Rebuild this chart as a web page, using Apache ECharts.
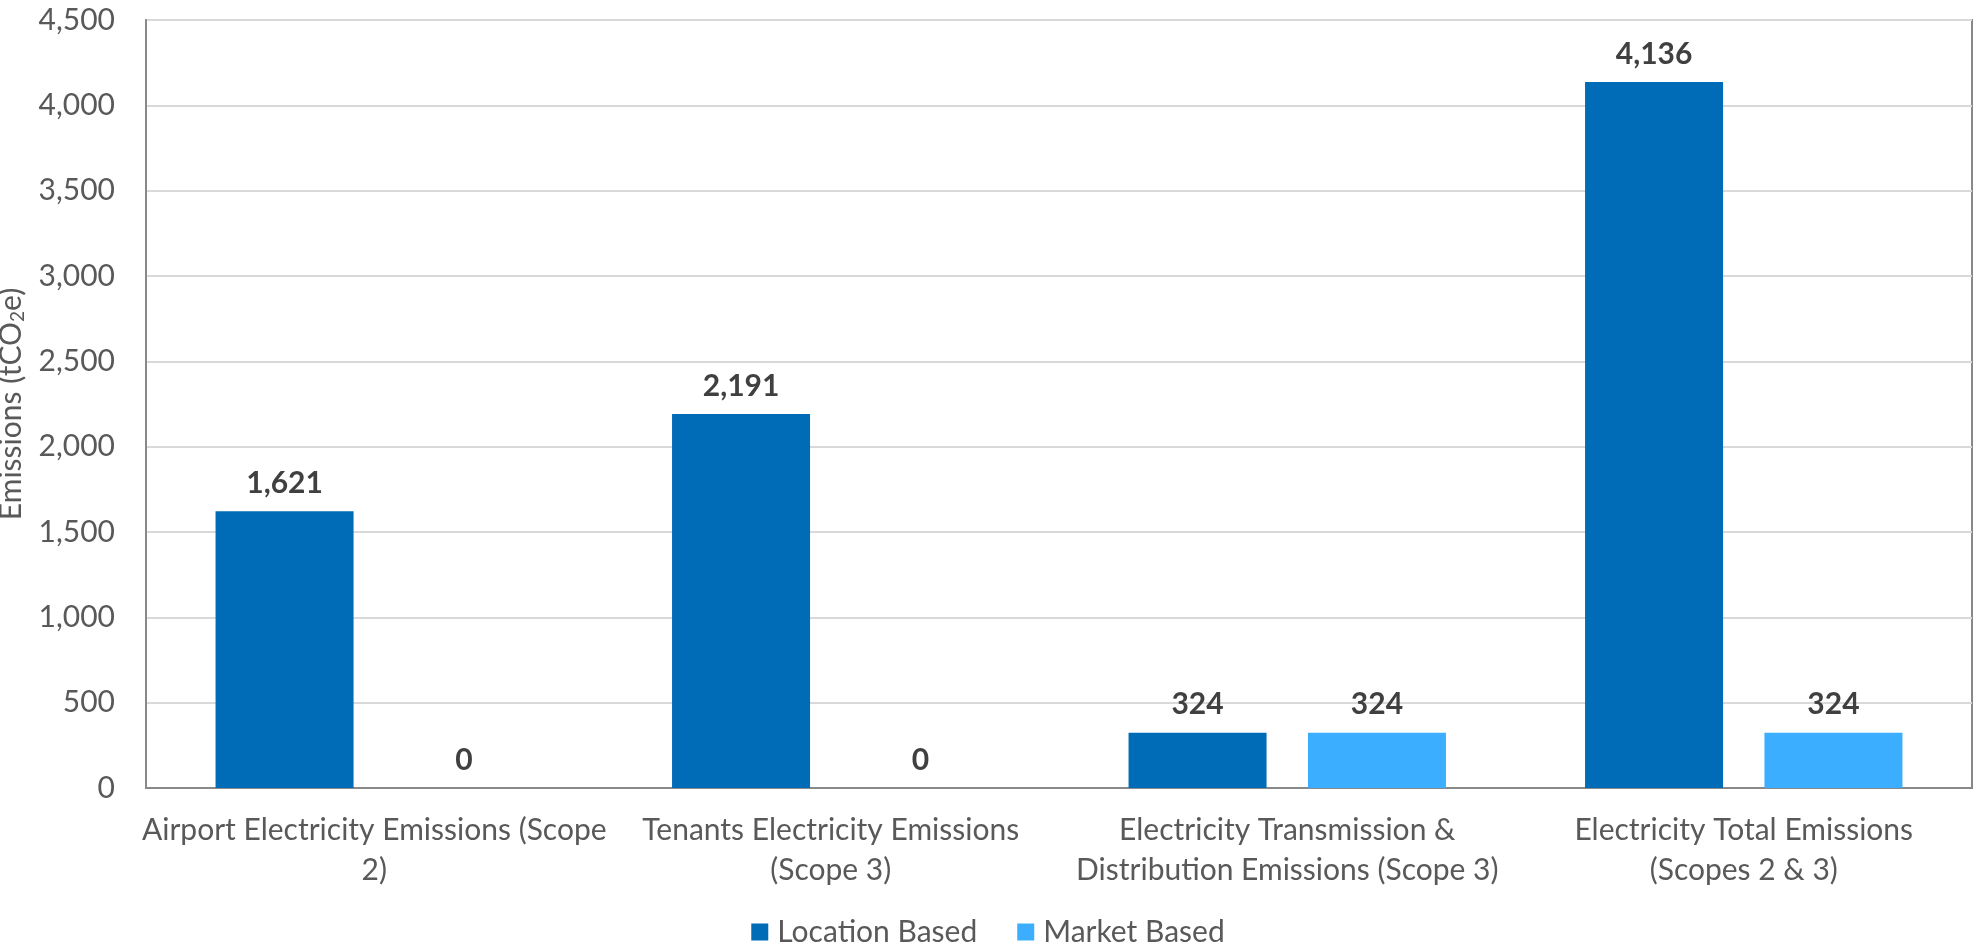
<!DOCTYPE html>
<html>
<head>
<meta charset="utf-8">
<script src="https://cdn.jsdelivr.net/npm/echarts@6/dist/echarts.min.js"></script>
<style>
html,body{margin:0;padding:0;background:#fff;}
#chart{width:1976px;height:945px;}
</style>
</head>
<body>
<div id="chart"></div>
<script>
const categories = [
  'Airport Electricity Emissions (Scope\n2)',
  'Tenants Electricity Emissions\n(Scope 3)',
  'Electricity Transmission &\nDistribution Emissions (Scope 3)',
  'Electricity Total Emissions\n(Scopes 2 & 3)'
];
const seriesNames = ['Location Based', 'Market Based'];
const locationBased = [1621, 2191, 324, 4136];
const marketBased = [0, 0, 324, 324];
const yTicks = { min: 0, max: 4500, interval: 500 };

const FONT = 'Lato';
const fmt = v => Number(v).toLocaleString('en-US');

const chart = echarts.init(document.getElementById('chart'));
const labelStyle = {
  show: true,
  position: 'top',
  distance: 13,
  fontFamily: FONT,
  fontSize: 30,
  fontWeight: 'bold',
  color: '#404040',
  formatter: p => fmt(p.value)
};
chart.setOption({
  animation: false,
  textStyle: { fontFamily: FONT },
  grid: {
    left: 146, right: 4, top: 20, bottom: 157,
    outerBoundsMode: 'none',
    containLabel: false,
    show: true, borderColor: '#898989', borderWidth: 2, backgroundColor: 'transparent'
  },
  legend: {
    data: seriesNames,
    left: 'center',
    top: 917,
    padding: 0,
    itemWidth: 17,
    itemHeight: 17,
    itemGap: 40,
    icon: 'rect',
    textStyle: { fontFamily: FONT, fontSize: 30, color: '#595959', padding: [0, 0, 0, 4] }
  },
  xAxis: {
    type: 'category',
    data: categories,
    axisTick: { show: false },
    axisLine: { lineStyle: { color: '#898989', width: 2 } },
    axisLabel: {
      interval: 0, fontFamily: FONT, fontSize: 30, color: '#595959',
      lineHeight: 40, margin: 22
    }
  },
  yAxis: {
    type: 'value',
    min: yTicks.min, max: yTicks.max, interval: yTicks.interval,
    name: 'Emissions (tCO{sub|2}e)',
    nameLocation: 'middle',
    nameGap: 114,
    nameTextStyle: {
      fontFamily: FONT, fontSize: 30, color: '#595959',
      rich: { sub: { fontFamily: FONT, fontSize: 19, color: '#595959', padding: [14, 0, 0, 0] } }
    },
    axisLine: { show: true, lineStyle: { color: '#898989', width: 2 } },
    axisTick: { show: false },
    splitLine: { lineStyle: { color: '#D9D9D9', width: 2 } },
    axisLabel: { fontFamily: FONT, fontSize: 30, color: '#595959', margin: 31, formatter: v => fmt(v) }
  },
  series: [
    {
      name: seriesNames[0], type: 'bar', data: locationBased,
      barWidth: 138, barGap: '30%',
      itemStyle: { color: '#006BB6' },
      label: labelStyle
    },
    {
      name: seriesNames[1], type: 'bar', data: marketBased,
      barWidth: 138,
      itemStyle: { color: '#3CAEFF' },
      label: labelStyle
    }
  ]
});
</script>
</body>
</html>
